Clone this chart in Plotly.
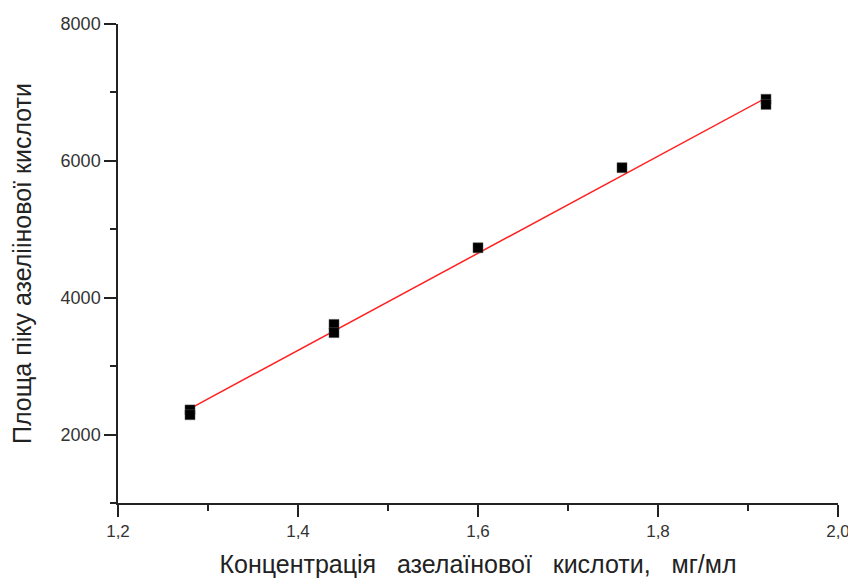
import plotly.graph_objects as go

# Data
conc = [1.28, 1.28, 1.44, 1.44, 1.60, 1.76, 1.92, 1.92]
area = [2360, 2290, 3610, 3490, 4730, 5900, 6900, 6825]

fit_x = [1.28, 1.92]
fit_y = [2380, 6920]

x_ticks = [1.2, 1.4, 1.6, 1.8, 2.0]
y_ticks = [2000, 4000, 6000, 8000]

x_title = "Концентрація   азелаїнової   кислоти,   мг/мл"
y_title = "Площа піку азеліінової кислоти"

FONT = "Liberation Sans, Arial"

fig = go.Figure()
fig.add_trace(go.Scatter(
    x=fit_x, y=fit_y, mode="lines",
    line=dict(color="#ff2020", width=1.5),
    showlegend=False, hoverinfo="skip"))
fig.add_trace(go.Scatter(
    x=conc, y=area, mode="markers",
    marker=dict(symbol="square", size=10, color="black",
                line=dict(color="#555555", width=0.5)),
    showlegend=False))

axis_common = dict(
    showgrid=False, zeroline=False, showline=True, linecolor="#222222",
    linewidth=1.5, ticks="outside", ticklen=12, tickwidth=1.5,
    tickcolor="#222222", mirror=False, automargin=False,
)

# the page body adds an 8px offset, so the figure is 8px smaller here
fig.update_layout(
    width=848, height=570,
    margin=dict(l=110, r=18, t=16, b=75),
    paper_bgcolor="white", plot_bgcolor="white",
    separators=", ",
    xaxis=dict(
        range=[1.2, 2.0], tickvals=x_ticks, tickformat=".1f",
        tickfont=dict(family=FONT, size=17, color="#333333"),
        minor=dict(ticks="outside", ticklen=6, tickwidth=1.5,
                   tickcolor="#222222", dtick=0.1, tick0=1.2),
        title=dict(text=x_title, standoff=17,
                   font=dict(family=FONT, size=25, color="#222222")),
        **axis_common),
    yaxis=dict(
        range=[1000, 8000], tickvals=y_ticks, tickformat="d",
        ticksuffix="\u00a0",
        tickfont=dict(family=FONT, size=18, color="#333333"),
        minor=dict(ticks="outside", ticklen=6, tickwidth=1.5,
                   tickcolor="#222222", dtick=1000, tick0=1000),
        title=dict(text=y_title + "\u00a0" * 3, standoff=22,
                   font=dict(family=FONT, size=25, color="#222222")),
        **axis_common),
)

fig.write_html("out.html")
